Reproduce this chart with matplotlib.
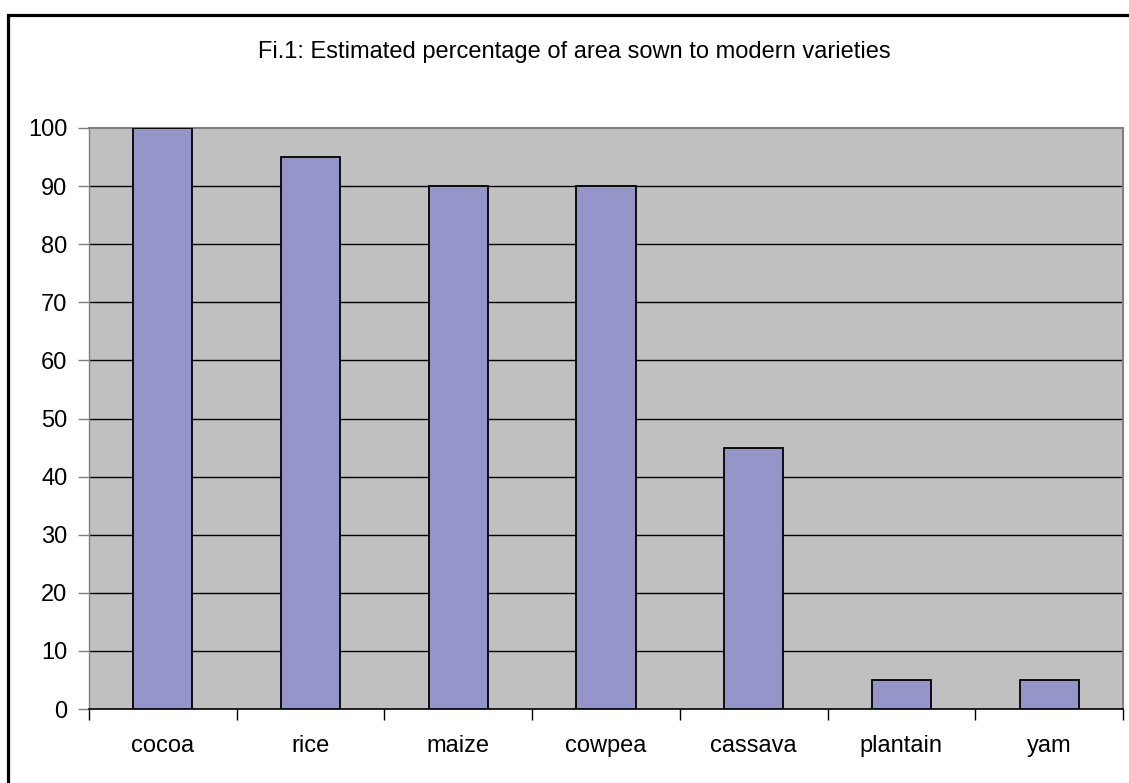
import matplotlib
matplotlib.use("Agg")
import matplotlib.pyplot as plt
from matplotlib.patches import Rectangle

categories = ["cocoa", "rice", "maize", "cowpea", "cassava", "plantain", "yam"]
values = [100, 95, 90, 90, 45, 5, 5]
yticks = [0, 10, 20, 30, 40, 50, 60, 70, 80, 90, 100]
title = "Fi.1: Estimated percentage of area sown to modern varieties"

W, H = 1129, 783
plt.rcParams['font.family'] = ['Liberation Sans', 'DejaVu Sans']
fig = plt.figure(figsize=(W / 100, H / 100), dpi=100)

# outer chart border (top/left visible, right/bottom clipped)
fig.patches.append(Rectangle((8 / W, -0.05), 1.2, (H - 15) / H + 0.05,
                             transform=fig.transFigure, fill=False,
                             edgecolor='black', linewidth=2.3))

ax = fig.add_axes([89 / W, 74 / H, (1123 - 89) / W, (709 - 128) / H])
ax.set_facecolor('#C0C0C0')
x = list(range(len(categories)))
ax.bar(x, values, width=0.4, color='#9595C9', edgecolor='black', linewidth=1.3, zorder=3)

ax.set_xlim(-0.5, len(categories) - 0.5)
ax.set_ylim(0, 100)
ax.set_yticks(yticks)
ax.set_yticklabels([str(t) for t in yticks])
ax.set_xticks(x)
ax.set_xticklabels(categories)
ax.tick_params(axis='x', length=0, pad=19, labelsize=17)
ax.set_xticks([i - 0.5 for i in range(len(categories) + 1)], minor=True)
ax.tick_params(axis='x', which='minor', length=8, width=1, color='black')
ax.tick_params(axis='y', length=8, width=1, color='#808080', pad=7.5, labelsize=17)

for t in yticks[1:-1]:
    ax.axhline(t, color='black', linewidth=1, zorder=1)

for s in ['top', 'right']:
    ax.spines[s].set_color('#808080')
    ax.spines[s].set_linewidth(1.5)
ax.spines['left'].set_color('#808080')
ax.spines['left'].set_linewidth(1)
ax.spines['bottom'].set_color('black')
ax.spines['bottom'].set_linewidth(1.2)

fig.text(574 / W, 1 - 58 / H, title, ha='center', va='baseline', fontsize=17)

fig.savefig("out.png", dpi=100)
